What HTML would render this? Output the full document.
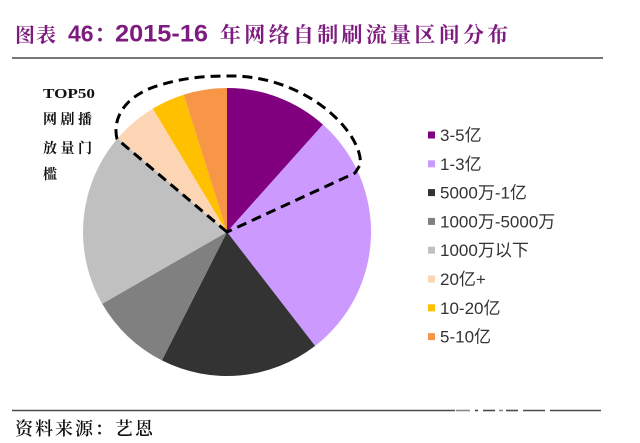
<!DOCTYPE html>
<html><head><meta charset="utf-8"><style>
html,body{margin:0;padding:0;background:#fff;}
svg{display:block;}
</style></head><body>
<svg width="640" height="443" viewBox="0 0 640 443" xmlns="http://www.w3.org/2000/svg">
<rect width="640" height="443" fill="#fff"/>
<!-- Title -->
<g fill="#7d1b7e">
<text x="15" y="42" font-family="'Noto Serif CJK SC','Noto Sans CJK SC',serif" font-weight="700" font-size="20" letter-spacing="1">图表</text>
<text x="68" y="41.5" font-family="'Liberation Sans',sans-serif" font-weight="700" font-size="23">46</text>
<text x="95" y="41" font-family="'Noto Sans CJK SC',sans-serif" font-weight="700" font-size="20">：</text>
<text x="115" y="41.5" font-family="'Liberation Sans',sans-serif" font-weight="700" font-size="24" textLength="93" lengthAdjust="spacingAndGlyphs">2015-16</text>
<text x="220" y="42" font-family="'Noto Serif CJK SC','Noto Sans CJK SC',serif" font-weight="700" font-size="21" letter-spacing="3.3">年网络自制刷流量区间分布</text>
</g>
<line x1="12" y1="58" x2="603" y2="58" stroke="#4a4a4a" stroke-width="1.6"/>

<!-- Pie -->
<g stroke="none">
<path d="M227,232 L227,88 A144,144 0 0,1 323.0,124.6 Z" fill="#800080"/>
<path d="M227,232 L323.0,124.6 A144,144 0 0,1 315.1,345.9 Z" fill="#CC99FF"/>
<path d="M227,232 L315.1,345.9 A144,144 0 0,1 161.9,360.4 Z" fill="#333333"/>
<path d="M227,232 L161.9,360.4 A144,144 0 0,1 102.2,303.8 Z" fill="#808080"/>
<path d="M227,232 L102.2,303.8 A144,144 0 0,1 117.7,138.3 Z" fill="#C0C0C0"/>
<path d="M227,232 L117.7,138.3 A144,144 0 0,1 152.8,108.6 Z" fill="#FCD5B5"/>
<path d="M227,232 L152.8,108.6 A144,144 0 0,1 183.7,94.7 Z" fill="#FFC000"/>
<path d="M227,232 L183.7,94.7 A144,144 0 0,1 227,88 Z" fill="#F79646"/>
</g>
<!-- dashed outline -->
<path d="M227,232 L117,139 C112,118 125,95 160,85 C190,76 213,76 235,76 C275,77 315,95 340,122 C355,138 362,155 360,165 L355,173 Z" fill="none" stroke="#000" stroke-width="3" stroke-dasharray="10 6" stroke-linejoin="round"/>

<!-- TOP50 label -->
<g fill="#111" font-weight="700">
<text x="43" y="98" font-family="'Liberation Serif',serif" font-size="14" textLength="52" lengthAdjust="spacingAndGlyphs">TOP50</text>
<text x="43" y="124" font-family="'Noto Serif CJK SC','Noto Sans CJK SC',serif" font-size="14" letter-spacing="3.5">网剧播</text>
<text x="43" y="153" font-family="'Noto Serif CJK SC','Noto Sans CJK SC',serif" font-size="14" letter-spacing="3.5">放量门</text>
<text x="43" y="179" font-family="'Noto Serif CJK SC','Noto Sans CJK SC',serif" font-size="14" letter-spacing="3.5">槛</text>
</g>

<!-- Legend -->
<g font-family="'Liberation Sans','Noto Sans CJK SC',sans-serif" font-size="17" fill="#333">
<rect x="428" y="131.5" width="7" height="7" fill="#800080"/><text x="440" y="141">3-5亿</text>
<rect x="428" y="160.3" width="7" height="7" fill="#CC99FF"/><text x="440" y="169.8">1-3亿</text>
<rect x="428" y="189.1" width="7" height="7" fill="#333333"/><text x="440" y="198.6">5000万-1亿</text>
<rect x="428" y="217.9" width="7" height="7" fill="#808080"/><text x="440" y="227.4">1000万-5000万</text>
<rect x="428" y="246.7" width="7" height="7" fill="#C0C0C0"/><text x="440" y="256.2">1000万以下</text>
<rect x="428" y="275.5" width="7" height="7" fill="#FCD5B5"/><text x="440" y="285">20亿+</text>
<rect x="428" y="304.3" width="7" height="7" fill="#FFC000"/><text x="440" y="313.8">10-20亿</text>
<rect x="428" y="333.1" width="7" height="7" fill="#F79646"/><text x="440" y="342.6">5-10亿</text>
</g>

<!-- bottom line -->
<g stroke="#4a4a4a" stroke-width="1.6">
<line x1="12" y1="410.5" x2="455" y2="410.5"/>
<line x1="456" y1="410.5" x2="470" y2="410.5" stroke="#888"/>
<line x1="475" y1="410.5" x2="478" y2="410.5"/>
<line x1="483" y1="410.5" x2="495" y2="410.5"/>
<line x1="499" y1="410.5" x2="503" y2="410.5" stroke="#888"/>
<line x1="506" y1="410.5" x2="518" y2="410.5"/>
<line x1="523" y1="410.5" x2="545" y2="410.5"/>
<line x1="550" y1="410.5" x2="601" y2="410.5"/>
</g>
<text x="15" y="435" font-family="'Noto Serif CJK SC','Noto Sans CJK SC',serif" font-size="18" font-weight="600" letter-spacing="2" fill="#111">资料来源：艺恩</text>
</svg>
</body></html>
